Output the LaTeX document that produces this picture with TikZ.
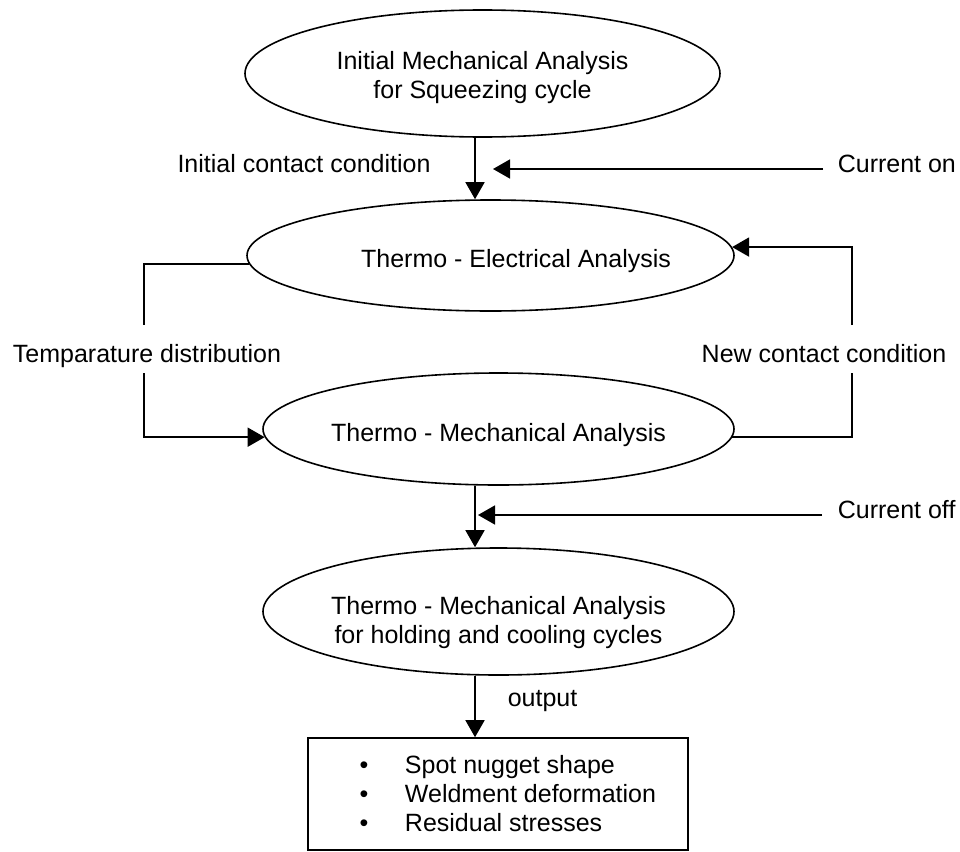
\documentclass[tikz,border=0pt]{standalone}
\usepackage{fontspec}
\setmainfont{Liberation Sans}
\usetikzlibrary{shapes.geometric,arrows.meta}
\begin{document}
\begin{tikzpicture}[x=1pt,y=-1pt,
  font=\fontsize{25}{29}\selectfont,
  line width=1.6pt,
  proc/.style={draw, ellipse, inner xsep=-40pt, inner ysep=0pt, align=center},
  single/.style={text height=24pt, text depth=0pt},
  lbl/.style={anchor=base, inner sep=0pt},
  arr/.style={-{Triangle[length=17pt,width=19pt]}},
  outbox/.style={draw, rectangle, inner sep=0pt, minimum width=380pt, minimum height=112pt, align=left}]
\useasboundingbox (0,0) rectangle (960,851);

% process ellipses
\node[proc, minimum width=475pt, minimum height=127pt] (e1) at (482.5,73.5)
  {\rule{0pt}{27pt}Initial Mechanical Analysis\\for Squeezing cycle};
\node[proc, single, minimum width=487pt, minimum height=111pt] (e2) at (490.5,255.5)
  {\makebox[0pt]{\hspace*{51pt}Thermo - Electrical Analysis}};
\node[proc, single, minimum width=471pt, minimum height=112pt] (e3) at (498.5,429)
  {Thermo - Mechanical Analysis};
\node[proc, minimum width=471pt, minimum height=127pt] (e4) at (498.5,611.5)
  {\rule{0pt}{40pt}Thermo - Mechanical Analysis\\for holding and cooling cycles};

% result box
\node[outbox] (res) at (498,794)
  {\hspace*{19.6pt}\makebox[45.4pt][l]{\textbullet}Spot nugget shape\\
   \hspace*{19.6pt}\makebox[45.4pt][l]{\textbullet}Weldment deformation\\
   \hspace*{19.6pt}\makebox[45.4pt][l]{\textbullet}Residual stresses};

% labels
\node[lbl] (icc) at (304,172) {Initial contact condition};
\node[lbl, anchor=base west] (con) at (837,172) {Current on};
\node[lbl] (td) at (147,362) {Temparature distribution};
\node[lbl] (ncc) at (824,362) {New contact condition};
\node[lbl, anchor=base west] (coff) at (837,518) {Current off};
\node[lbl] (out) at (542.5,706) {output};

% helper coordinates
\coordinate (vx) at (475,0);
\coordinate (onEnd) at (493,169);
\coordinate (offEnd) at (478,515);
\coordinate (L1) at (144,325);
\coordinate (L2) at (144,373);
\coordinate (R1) at (852,373);
\coordinate (R2) at (852,325);

% main flow
\draw[arr] (e1.south -| vx) -- (e2.north -| vx);
\draw[arr] (e3.south -| vx) -- (e4.north -| vx);
\draw[arr] (e4.south -| vx) -- (res.north -| vx);

% current on / off
\draw[arr] ([xshift=-14pt]con.west |- onEnd) -- (onEnd);
\draw[arr] ([xshift=-15pt]coff.west |- offEnd) -- (offEnd);

% loop connectors
\draw (e2.182) -| (L1);
\draw[arr] (L2) |- (e3.182);
\draw (e3.358) -| (R1);
\draw[arr] (R2) |- (e2.2);
\end{tikzpicture}
\end{document}
